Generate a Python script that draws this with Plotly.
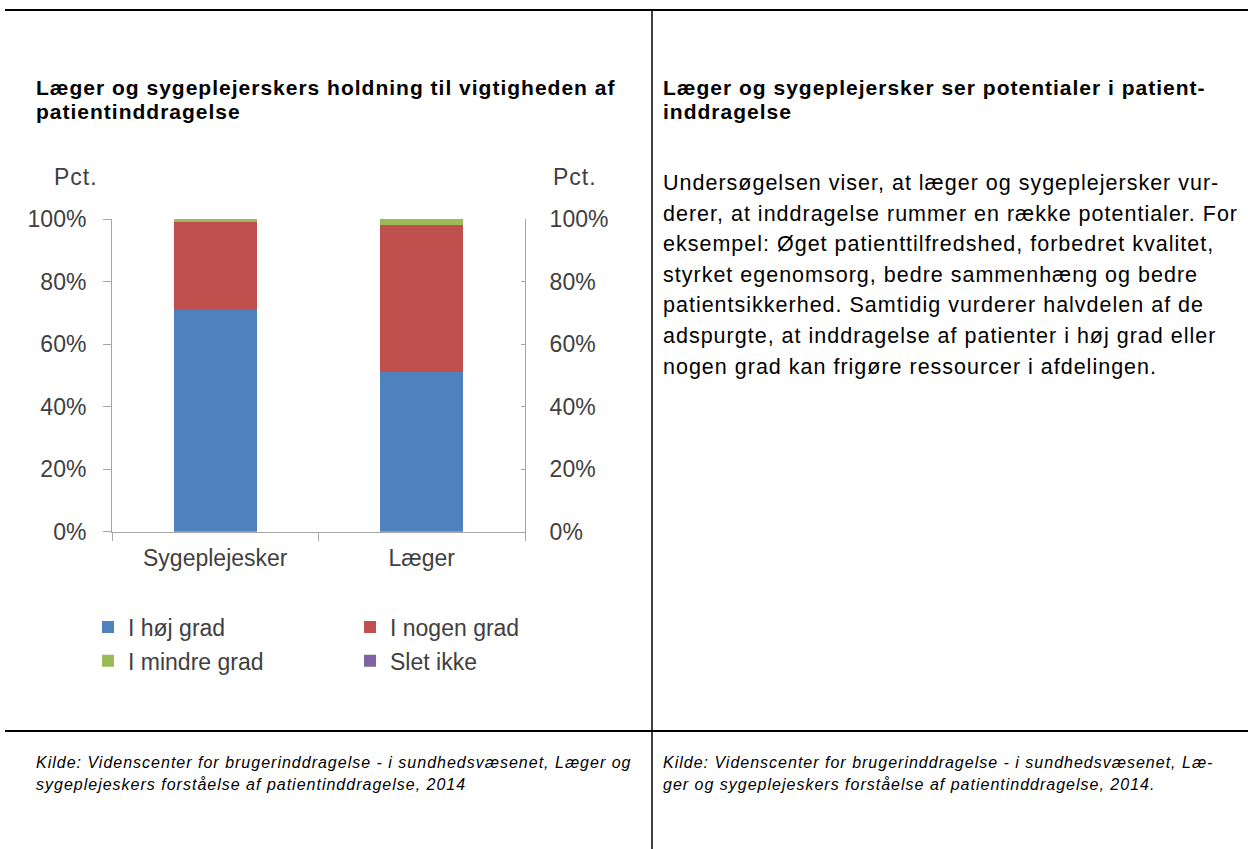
import plotly.graph_objects as go

W, H = 1248, 849

categories = ["Sygeplejesker", "Læger"]
series_names = ["I høj grad", "I nogen grad", "I mindre grad", "Slet ikke"]
hoej_grad = [71, 51]
nogen_grad = [28, 47]
mindre_grad = [1, 2]
slet_ikke = [0, 0]
series_values = [hoej_grad, nogen_grad, mindre_grad, slet_ikke]
series_colors = ["#4F81BD", "#C0504D", "#9BBB59", "#8064A2"]
series_legend = ["legend", "legend2", "legend", "legend2"]
tick_vals = [0, 20, 40, 60, 80, 100]
tick_text = ["0%", "20%", "40%", "60%", "80%", "100%"]

header_left = ["Læger og sygeplejerskers holdning til vigtigheden af", "patientinddragelse"]
header_right = ["Læger og sygeplejersker ser potentialer i patient-", "inddragelse"]
body_lines = [
    "Undersøgelsen viser, at læger og sygeplejersker vur-",
    "derer, at inddragelse rummer en række potentialer. For",
    "eksempel: Øget patienttilfredshed, forbedret kvalitet,",
    "styrket egenomsorg, bedre sammenhæng og bedre",
    "patientsikkerhed. Samtidig vurderer halvdelen af de",
    "adspurgte, at inddragelse af patienter i høj grad eller",
    "nogen grad kan frigøre ressourcer i afdelingen.",
]
footer_left = ["Kilde: Videnscenter for brugerinddragelse - i sundhedsvæsenet, Læger og",
               "sygeplejeskers forståelse af patientinddragelse, 2014"]
footer_right = ["Kilde: Videnscenter for brugerinddragelse - i sundhedsvæsenet, Læ-",
                "ger og sygeplejeskers forståelse af patientinddragelse, 2014."]


def X(px):
    return px / W


def Y(py):
    return 1 - py / H


FONT = "Arial, 'Liberation Sans', sans-serif"
TXT = "#404040"
AX = "#A6A6A6"

fig = go.Figure()
for name, vals, col, lg in zip(series_names, series_values, series_colors, series_legend):
    fig.add_trace(go.Bar(x=categories, y=vals, name=name, marker=dict(color=col, line=dict(width=0)),
                         legend=lg, legendgroup=name))

# keep an (empty) trace on the right axis so it is drawn
fig.add_trace(go.Scatter(x=categories, y=[None, None], yaxis="y2", showlegend=False, hoverinfo="skip"))

fig.update_layout(
    width=W, height=H, margin=dict(l=0, r=0, t=0, b=0, autoexpand=False),
    paper_bgcolor="white", plot_bgcolor="white",
    barmode="stack", bargap=0.6,
    font=dict(family=FONT, color=TXT, size=23),
    xaxis=dict(domain=[X(112), X(525)], showline=True, linecolor=AX, linewidth=1,
               ticks="outside", tickson="boundaries", ticklen=8, tickcolor=AX,
               showgrid=False, tickfont=dict(size=23, color=TXT), ticklabelstandoff=6),
    yaxis=dict(domain=[Y(531.7), Y(219)], range=[0, 100], tickmode="array", tickvals=tick_vals,
               ticktext=tick_text,
               showline=True, linecolor=AX, linewidth=1, ticks="outside", ticklen=8, tickcolor=AX,
               showgrid=False, zeroline=False, tickfont=dict(size=23, color=TXT), ticklabelstandoff=12),
    yaxis2=dict(overlaying="y", side="right", anchor="x", range=[0, 100], tickmode="array",
                tickvals=tick_vals, ticktext=tick_text,
                showline=True, linecolor=AX, linewidth=1, ticks="inside", ticklen=4,
                tickcolor=AX, showgrid=False, zeroline=False, tickfont=dict(size=23, color=TXT),
                ticklabelstandoff=19),
    legend=dict(x=X(88), y=Y(605.5), xanchor="left", yanchor="top", orientation="v",
                font=dict(size=23, color=TXT), bgcolor="rgba(0,0,0,0)", itemwidth=30,
                traceorder="grouped", tracegroupgap=1),
    legend2=dict(x=X(350), y=Y(605.5), xanchor="left", yanchor="top", orientation="v",
                 font=dict(size=23, color=TXT), bgcolor="rgba(0,0,0,0)", itemwidth=30,
                 traceorder="grouped", tracegroupgap=1),
)

shapes = [
    dict(type="line", xref="paper", yref="paper", x0=X(5), x1=1, y0=Y(10), y1=Y(10),
         line=dict(color="black", width=2)),
    dict(type="line", xref="paper", yref="paper", x0=X(5), x1=1, y0=Y(731), y1=Y(731),
         line=dict(color="black", width=2)),
    dict(type="line", xref="paper", yref="paper", x0=X(652), x1=X(652), y0=Y(10), y1=0,
         line=dict(color="black", width=1.5)),
]
fig.update_layout(shapes=shapes)

ann = []


def txt(x, y, s, size, bold=False, italic=False, color="black", xanchor="left"):
    t = s
    if bold:
        t = "<b>" + t + "</b>"
    if italic:
        t = "<i>" + t + "</i>"
    ann.append(dict(x=X(x), y=Y(y), xref="paper", yref="paper", text=t, showarrow=False,
                    xanchor=xanchor, yanchor="middle", align="left",
                    font=dict(family=FONT, size=size, color=color)))


for i, s in enumerate(header_left):
    txt(34, 88 + i * 23, s, 21, bold=True)
for i, s in enumerate(header_right):
    txt(661, 88 + i * 23, s, 21, bold=True)
for i, s in enumerate(body_lines):
    txt(661, 183 + i * 30.6, s, 21.5)
for i, s in enumerate(footer_left):
    txt(34, 762 + i * 22, s, 16, italic=True)
for i, s in enumerate(footer_right):
    txt(661, 762 + i * 22, s, 16, italic=True)

txt(74, 177, "Pct.", 23, color=TXT, xanchor="center")
txt(573, 177, "Pct.", 23, color=TXT, xanchor="center")

fig.update_layout(annotations=ann)

post = ("document.body.style.margin='0';document.body.style.overflow='hidden';"
        "var st=document.createElement('style');"
        "st.textContent='.annotation-text{letter-spacing:1px}';"
        "document.head.appendChild(st);")
fig.write_html("out.html", post_script=post, config={"displayModeBar": False})
